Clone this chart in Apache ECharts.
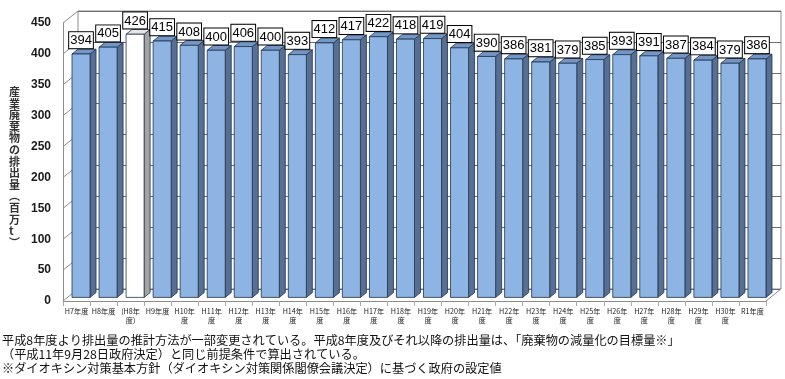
<!DOCTYPE html>
<html><head><meta charset="utf-8">
<script src="https://cdn.jsdelivr.net/npm/echarts@6/dist/echarts.min.js"></script>
<style>html,body{margin:0;padding:0;background:#fff}#c{width:785px;height:379px}</style>
</head><body><div id="c"></div>
<script>
// ---- data ----
const categories = ['H7年度','H8年度','(H8年\n度)','H9年度','H10年\n度','H11年\n度','H12年\n度','H13年\n度','H14年\n度','H15年\n度','H16年\n度','H17年\n度','H18年\n度','H19年\n度','H20年\n度','H21年\n度','H22年\n度','H23年\n度','H24年\n度','H25年\n度','H26年\n度','H27年\n度','H28年\n度','H29年\n度','H30年\n度','R1年度'];
const values = [394,405,426,415,408,400,406,400,393,412,417,422,418,419,404,390,386,381,379,385,393,391,387,384,379,386];
const whiteBarCategories = ['(H8年\n度)'];
const yMin = 0, yMax = 450, yStep = 50;
const yTicks = [0,50,100,150,200,250,300,350,400,450];
const yAxisTitle = '産業廃棄物の排出量（百万t）';
const notes = [
  '平成8年度より排出量の推計方法が一部変更されている。平成8年度及びそれ以降の排出量は、「廃棄物の減量化の目標量※」',
  '（平成11年9月28日政府決定）と同じ前提条件で算出されている。',
  '※ダイオキシン対策基本方針（ダイオキシン対策関係閣僚会議決定）に基づく政府の設定値'
];

// ---- styling / geometry ----
const DEPTH = [15, -12];
const F0 = 0.3, F1 = 0.7;
const WALL = '#8c8c8c';
const OUTLINE = '#22344f';

const chart = echarts.init(document.getElementById('c'), null, {renderer: 'canvas'});

function renderWall(params, api) {
  const v = api.value(1);
  const band = api.size([1, 0])[0];
  const p = api.coord([0, v]);
  const x0 = p[0] - band / 2;
  const children = [{
    type: 'line', shape: {x1: x0, y1: p[1], x2: x0 + DEPTH[0], y2: p[1] + DEPTH[1]},
    style: {stroke: WALL, lineWidth: 1}
  }];
  if (v === yMin) {
    const q = api.coord([categories.length - 1, v]);
    const x1 = q[0] + band / 2;
    children.push({
      type: 'line', shape: {x1: x1, y1: q[1], x2: x1 + DEPTH[0], y2: q[1] + DEPTH[1]},
      style: {stroke: WALL, lineWidth: 1}
    });
  }
  return {type: 'group', children: children};
}

function renderBar(params, api) {
  const i = api.value(0), v = api.value(1);
  const band = api.size([1, 0])[0];
  const c0 = api.coord([i, 0]), c1 = api.coord([i, v]);
  const w = band * 0.667;
  const fx = c0[0] - w / 2 + DEPTH[0] * F0;
  const fyTop = c1[1] + DEPTH[1] * F0;
  const fyBot = c0[1] + DEPTH[1] * F0;
  const bd = [DEPTH[0] * (F1 - F0), DEPTH[1] * (F1 - F0)];
  const white = whiteBarCategories.indexOf(categories[i]) >= 0;
  const cf = white ? '#ffffff' : '#8db4e2';
  const cs = white ? '#a3a3a3' : '#566f93';
  const ct = white ? '#e6e6e6' : '#7396c4';
  const st = {stroke: OUTLINE, lineWidth: 0.8, lineJoin: 'round'};
  return {
    type: 'group',
    children: [
      {type: 'polygon', shape: {points: [[fx + w, fyTop], [fx + w + bd[0], fyTop + bd[1]], [fx + w + bd[0], fyBot + bd[1]], [fx + w, fyBot]]},
        style: Object.assign({fill: cs}, st)},
      {type: 'polygon', shape: {points: [[fx, fyTop], [fx + bd[0], fyTop + bd[1]], [fx + w + bd[0], fyTop + bd[1]], [fx + w, fyTop]]},
        style: Object.assign({fill: ct}, st)},
      {type: 'rect', shape: {x: fx, y: fyTop, width: w, height: fyBot - fyTop},
        style: Object.assign({fill: cf}, st)},
      {type: 'text', z2: 10, style: {
        text: String(v), x: fx + w / 2, y: fyTop + bd[1] - 1,
        align: 'center', verticalAlign: 'bottom',
        fill: '#000', fontSize: 13, fontFamily: '"Liberation Sans", Arial, sans-serif', lineHeight: 13,
        backgroundColor: '#fff', borderColor: '#000', borderWidth: 1, padding: [2, 1, 1, 1]
      }}
    ]
  };
}

const titleText = Array.from(yAxisTitle).map(ch => ch === '（' ? '︵' : ch === '）' ? '︶' : ch).join('\n');

chart.setOption({
  animation: false,
  backgroundColor: '#fff',
  grid: [
    {left: 63, right: 19, top: 23, bottom: 78},
    {left: 78, right: 4, top: 11, bottom: 90, show: true, borderColor: WALL, borderWidth: 1, backgroundColor: 'transparent'}
  ],
  xAxis: [
    {type: 'category', gridIndex: 0, data: categories,
      axisLine: {show: true, lineStyle: {color: WALL, width: 1}},
      axisTick: {show: true, length: 5, lineStyle: {color: '#aaa'}},
      axisLabel: {fontSize: 7.2, lineHeight: 9, color: '#222', margin: 6, interval: 0,
        fontFamily: '"Noto Sans CJK JP", sans-serif'},
      splitLine: {show: false}},
    {type: 'category', gridIndex: 1, data: categories, show: false}
  ],
  yAxis: [
    {type: 'value', gridIndex: 0, min: yMin, max: yMax, interval: yStep,
      axisLine: {show: true, lineStyle: {color: WALL, width: 1}},
      axisTick: {show: false},
      axisLabel: {fontSize: 12, fontWeight: 'bold', color: '#1a1a1a', margin: 12,
        fontFamily: '"Liberation Sans", Arial, sans-serif'},
      splitLine: {show: false}},
    {type: 'value', gridIndex: 1, min: yMin, max: yMax, interval: yStep,
      axisLine: {show: false}, axisTick: {show: false}, axisLabel: {show: false},
      splitLine: {show: true, lineStyle: {color: '#6e6e6e', width: 1}}}
  ],
  series: [
    {type: 'custom', xAxisIndex: 0, yAxisIndex: 0, z: 1, silent: true,
      data: yTicks.map(t => [0, t]), renderItem: renderWall, clip: false},
    {type: 'custom', xAxisIndex: 0, yAxisIndex: 0, z: 5, silent: true,
      data: values.map((v, i) => [i, v]), renderItem: renderBar, clip: false}
  ],
  graphic: [
    {type: 'text', left: 9, top: 86, style: {
      text: titleText, fontSize: 11, lineHeight: 11.6, fontWeight: 'bold', fill: '#333',
      fontFamily: '"Noto Sans CJK JP", sans-serif', align: 'center'}},
    {type: 'text', left: 2, top: 334, style: {text: notes[0], fontSize: 12.2, fill: '#111', fontFamily: '"Noto Sans CJK JP", sans-serif'}},
    {type: 'text', left: 2, top: 348, style: {text: notes[1], fontSize: 12.2, fill: '#111', fontFamily: '"Noto Sans CJK JP", sans-serif'}},
    {type: 'text', left: 2, top: 362, style: {text: notes[2], fontSize: 12.2, fill: '#111', fontFamily: '"Noto Sans CJK JP", sans-serif'}}
  ]
});
</script>
</body></html>
